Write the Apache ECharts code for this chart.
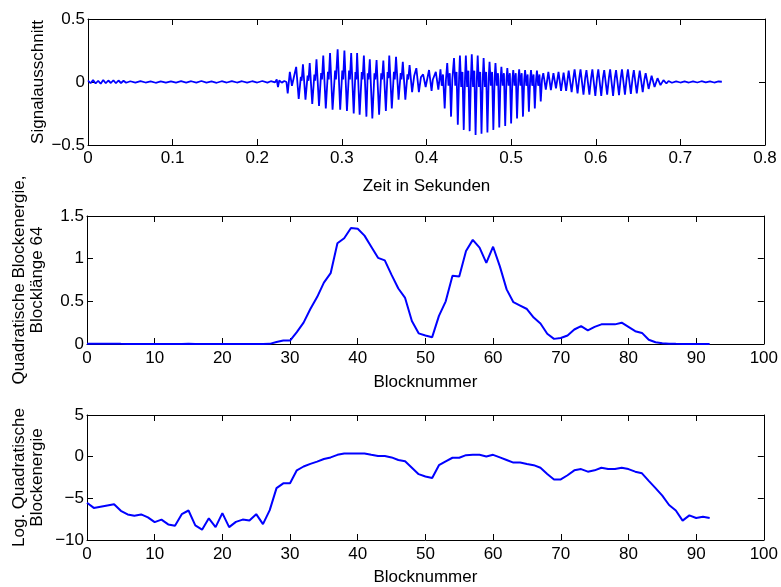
<!DOCTYPE html>
<html lang="de">
<head>
    <meta charset="UTF-8">
    <title>Blockenergie</title>
    <style>
        html, body { margin: 0; padding: 0; background: #fff; }
        #main { width: 781px; height: 587px; }
    </style>
</head>
<body>
    <div id="main"></div>
    <script src="https://cdn.jsdelivr.net/npm/echarts@6/dist/echarts.min.js"></script>
    <script>
        // Signalausschnitt: [Zeit in s, Amplitude] (Spitzen/Taeler aus dem Bild gelesen)
        var signal = [
            [0.000, 0.012], [0.003, -0.01], [0.006, 0.015], [0.009, -0.012], [0.012, 0.01], [0.015, -0.014],
            [0.018, 0.016], [0.021, -0.01], [0.024, 0.012], [0.027, -0.008], [0.030, 0.014], [0.033, -0.01],
            [0.036, 0.012], [0.039, -0.008], [0.042, 0.01], [0.045, -0.006],
            [0.050, 0.006], [0.056, -0.005], [0.062, 0.007], [0.068, -0.004], [0.074, 0.005], [0.080, -0.006],
            [0.086, 0.004], [0.092, -0.005], [0.098, 0.005], [0.104, -0.004], [0.110, 0.006], [0.116, -0.004],
            [0.122, 0.006], [0.128, -0.005], [0.134, 0.008], [0.140, -0.005], [0.146, 0.004], [0.152, -0.006],
            [0.158, 0.006], [0.164, -0.004], [0.170, 0.007], [0.176, -0.004], [0.182, 0.006], [0.188, -0.005],
            [0.194, 0.006], [0.200, -0.004], [0.206, 0.008], [0.212, -0.005], [0.216, 0.006], [0.221, -0.003],
            [0.223, 0.02], [0.2245, -0.04], [0.226, 0.012], [0.229, -0.005], [0.232, 0.008], [0.2345, 0.0],
            [0.236, -0.09], [0.2385, 0.08], [0.241, -0.03], [0.243, 0.03],
            [0.246, 0.12], [0.249, -0.135], [0.2515, 0.04], [0.2525, 0.01],
            [0.254, 0.14], [0.257, -0.14], [0.2595, 0.05], [0.2605, 0.01],
            [0.262, 0.15], [0.265, -0.175], [0.2675, 0.06], [0.2685, 0.01],
            [0.270, 0.18], [0.273, -0.19], [0.2755, 0.07], [0.2765, 0.02],
            [0.278, 0.21], [0.281, -0.21], [0.2835, 0.08], [0.2845, 0.02],
            [0.286, 0.23], [0.289, -0.22], [0.292, 0.09], [0.293, 0.02],
            [0.295, 0.26], [0.298, -0.22], [0.3005, 0.09], [0.3015, 0.02],
            [0.303, 0.25], [0.306, -0.23], [0.3085, 0.09], [0.3095, 0.02],
            [0.311, 0.23], [0.314, -0.25], [0.316, 0.08], [0.317, 0.02],
            [0.318, 0.23], [0.321, -0.26], [0.3235, 0.08], [0.3245, 0.02],
            [0.326, 0.21], [0.329, -0.275], [0.3305, 0.07], [0.3315, 0.02],
            [0.333, 0.18], [0.336, -0.29], [0.3385, 0.07], [0.3395, 0.02],
            [0.341, 0.175], [0.344, -0.26], [0.3465, 0.07], [0.3475, 0.02],
            [0.349, 0.17], [0.352, -0.23], [0.354, 0.08], [0.355, 0.03],
            [0.356, 0.21], [0.359, -0.21], [0.3615, 0.08], [0.3625, 0.02],
            [0.364, 0.20], [0.367, -0.14], [0.3695, 0.07], [0.3705, 0.02],
            [0.372, 0.16], [0.375, -0.14], [0.3775, 0.06], [0.3785, 0.02],
            [0.380, 0.135], [0.383, -0.08], [0.3855, 0.05],
            [0.388, 0.11], [0.391, -0.08], [0.3935, 0.04],
            [0.396, 0.06], [0.399, -0.04],
            [0.403, 0.095], [0.406, -0.07], [0.4075, 0.02],
            [0.411, 0.08], [0.414, -0.06], [0.4155, 0.03],
            [0.4165, 0.10], [0.418, -0.03], [0.4195, 0.06], [0.4215, -0.21], [0.423, 0.02],
            [0.4245, 0.15], [0.426, -0.03], [0.4275, 0.07], [0.429, -0.275], [0.4305, 0.02],
            [0.4325, 0.19], [0.434, -0.03], [0.4355, 0.08], [0.437, -0.34], [0.4385, 0.03],
            [0.4395, 0.21], [0.441, -0.04], [0.4425, 0.08], [0.444, -0.38], [0.4455, 0.03],
            [0.4465, 0.21], [0.448, -0.04], [0.4495, 0.09], [0.451, -0.39], [0.4525, 0.03],
            [0.4535, 0.22], [0.455, -0.04], [0.4565, 0.09], [0.458, -0.42], [0.4595, 0.03],
            [0.4605, 0.21], [0.462, -0.04], [0.4635, 0.08], [0.465, -0.41], [0.4665, 0.03],
            [0.4675, 0.19], [0.469, -0.04], [0.4705, 0.08], [0.472, -0.40], [0.4735, 0.03],
            [0.4745, 0.16], [0.476, -0.03], [0.4775, 0.08], [0.479, -0.38], [0.4805, 0.03],
            [0.4815, 0.15], [0.483, -0.03], [0.4845, 0.07], [0.486, -0.36], [0.4875, 0.02],
            [0.4885, 0.12], [0.490, -0.03], [0.4915, 0.07], [0.493, -0.35], [0.4945, 0.02],
            [0.4955, 0.11], [0.497, -0.03], [0.4985, 0.07], [0.500, -0.33], [0.5015, 0.02],
            [0.5025, 0.095], [0.504, -0.03], [0.5055, 0.07], [0.507, -0.29], [0.5085, 0.02],
            [0.5095, 0.10], [0.511, -0.03], [0.5125, 0.07], [0.514, -0.275], [0.5155, 0.02],
            [0.5165, 0.095], [0.518, -0.03], [0.5195, 0.06], [0.521, -0.235], [0.5225, 0.02],
            [0.5235, 0.095], [0.525, -0.03], [0.5265, 0.06], [0.528, -0.21], [0.5295, 0.02],
            [0.5305, 0.09], [0.532, -0.03], [0.5335, 0.06], [0.535, -0.155], [0.5365, 0.02],
            [0.538, 0.07], [0.541, -0.06], [0.544, 0.08], [0.547, -0.065], [0.550, 0.07], [0.553, -0.05],
            [0.556, 0.08], [0.559, -0.07], [0.562, 0.075], [0.565, -0.07],
            [0.568, 0.09], [0.5715, -0.08], [0.5735, 0.03],
            [0.575, 0.10], [0.5785, -0.09], [0.5805, 0.03],
            [0.582, 0.10], [0.5855, -0.10], [0.5875, 0.03],
            [0.589, 0.095], [0.5925, -0.10], [0.5945, 0.03],
            [0.596, 0.10], [0.5995, -0.11], [0.6015, 0.03],
            [0.603, 0.10], [0.6065, -0.11], [0.6085, 0.03],
            [0.610, 0.095], [0.6135, -0.10], [0.6155, 0.03],
            [0.617, 0.10], [0.6205, -0.11], [0.6225, 0.03],
            [0.624, 0.095], [0.6275, -0.105], [0.6295, 0.03],
            [0.631, 0.10], [0.6345, -0.10], [0.6365, 0.03],
            [0.638, 0.10], [0.6415, -0.095], [0.6435, 0.03],
            [0.645, 0.095], [0.6485, -0.09], [0.6505, 0.02],
            [0.652, 0.09], [0.6555, -0.08], [0.6575, 0.02],
            [0.659, 0.07], [0.6625, -0.055],
            [0.666, 0.05], [0.6695, -0.04],
            [0.673, 0.03], [0.6765, -0.025],
            [0.680, 0.015], [0.6835, -0.012],
            [0.686, 0.008], [0.690, -0.006], [0.695, 0.005], [0.700, -0.004], [0.705, 0.004], [0.710, -0.004],
            [0.715, 0.005], [0.720, -0.004], [0.725, 0.006], [0.730, -0.003], [0.735, 0.005], [0.740, -0.004],
            [0.745, 0.004], [0.749, 0.002]
        ];

        // Quadratische Blockenergie, Block 0 .. 92
        var energy = [
            0.004, 0.002, 0.0025, 0.003, 0.0033, 0.0015, 0.001, 0.0008, 0.001, 0.0007,
            0.0004, 0.0005, 0.0003, 0.0002, 0.001, 0.0016, 0.0003, 0.0002, 0.0006, 0.0002,
            0.0012, 0.0002, 0.0004, 0.0005, 0.0005, 0.001, 0.0003, 0.0016, 0.023, 0.04,
            0.04, 0.14, 0.25, 0.41, 0.55, 0.72, 0.83, 1.18, 1.24, 1.36,
            1.35, 1.27, 1.14, 1.01, 0.98, 0.81, 0.65, 0.54, 0.27, 0.125,
            0.10, 0.08, 0.33, 0.50, 0.80, 0.79, 1.09, 1.22, 1.13, 0.95,
            1.14, 0.91, 0.64, 0.49, 0.45, 0.41, 0.31, 0.24, 0.12, 0.06,
            0.07, 0.10, 0.17, 0.21, 0.16, 0.20, 0.23, 0.23, 0.23, 0.25,
            0.20, 0.15, 0.13, 0.05, 0.02, 0.009, 0.003, 0.0016, 0.0005, 0.0009,
            0.0006, 0.0007, 0.0006
        ];

        // Log. quadratische Blockenergie, Block 0 .. 92
        var logEnergy = [
            -5.53, -6.15, -6.0, -5.85, -5.7, -6.5, -6.93, -7.08, -6.93, -7.28,
            -7.86, -7.55, -8.13, -8.3, -6.9, -6.46, -8.25, -8.76, -7.4, -8.45,
            -6.77, -8.45, -7.83, -7.55, -7.67, -6.9, -8.1, -6.42, -3.78, -3.2,
            -3.2, -1.64, -1.18, -0.87, -0.6, -0.28, -0.09, 0.22, 0.38, 0.38,
            0.38, 0.38, 0.22, 0.07, 0.07, -0.09, -0.4, -0.56, -1.33, -2.1,
            -2.38, -2.57, -1.02, -0.56, -0.13, -0.13, 0.18, 0.22, 0.22, 0.03,
            0.22, -0.09, -0.4, -0.71, -0.71, -0.87, -1.02, -1.33, -2.07, -2.73,
            -2.73, -2.23, -1.64, -1.49, -1.8, -1.64, -1.33, -1.49, -1.49, -1.33,
            -1.49, -1.8, -2.0, -2.9, -3.78, -4.68, -5.8, -6.46, -7.67, -7.05,
            -7.36, -7.2, -7.36
        ];

        var font = "'Liberation Sans', Arial, Helvetica, sans-serif";
        var fontSize = 17;
        var blue = '#0000ff';

        function minus(v) {
            return String(v).replace('-', '\u2212');
        }

        function xMain(grid, min, max, interval, name, margin, gap) {
            return {
                type: 'value', gridIndex: grid, position: 'bottom',
                min: min, max: max, interval: interval,
                name: name, nameLocation: 'middle', nameGap: gap, nameMoveOverlap: false,
                nameTextStyle: { color: '#000', fontFamily: font, fontSize: fontSize },
                axisLine: { show: true, onZero: false, lineStyle: { color: '#000', width: 1 } },
                axisTick: { show: true, inside: true, length: 6, lineStyle: { color: '#000' } },
                axisLabel: { color: '#000', fontFamily: font, fontSize: fontSize, margin: margin, formatter: minus },
                splitLine: { show: false }
            };
        }

        function xTop(grid, min, max, interval) {
            return {
                type: 'value', gridIndex: grid, position: 'top',
                min: min, max: max, interval: interval,
                axisLine: { show: true, onZero: false, lineStyle: { color: '#000', width: 1 } },
                axisTick: { show: true, inside: true, length: 6, lineStyle: { color: '#000' } },
                axisLabel: { show: false },
                splitLine: { show: false }
            };
        }

        function yMain(grid, min, max, interval, name, gap) {
            return {
                type: 'value', gridIndex: grid, position: 'left',
                min: min, max: max, interval: interval,
                name: name, nameLocation: 'middle', nameGap: gap, nameRotate: 90, nameMoveOverlap: false,
                nameTextStyle: { color: '#000', fontFamily: font, fontSize: fontSize, lineHeight: 18 },
                axisLine: { show: true, onZero: false, lineStyle: { color: '#000', width: 1 } },
                axisTick: { show: true, inside: true, length: 6, lineStyle: { color: '#000' } },
                axisLabel: { color: '#000', fontFamily: font, fontSize: fontSize, margin: 3, formatter: minus },
                splitLine: { show: false }
            };
        }

        function yRight(grid, min, max, interval) {
            return {
                type: 'value', gridIndex: grid, position: 'right',
                min: min, max: max, interval: interval,
                axisLine: { show: true, onZero: false, lineStyle: { color: '#000', width: 1 } },
                axisTick: { show: true, inside: true, length: 6, lineStyle: { color: '#000' } },
                axisLabel: { show: false },
                splitLine: { show: false }
            };
        }

        function lineSeries(xi, yi, data, width) {
            return {
                type: 'line', xAxisIndex: xi, yAxisIndex: yi,
                data: data, showSymbol: false, symbol: 'none',
                lineStyle: { color: blue, width: width },
                silent: true
            };
        }

        var energyData = energy.map(function (v, i) { return [i, v]; });
        var logData = logEnergy.map(function (v, i) { return [i, v]; });

        var option = {
            backgroundColor: '#fff',
            animation: false,
            grid: [
                { left: 88, right: 16, top: 19, height: 126 },
                { left: 87, right: 16, top: 216, height: 128 },
                { left: 87, right: 16, top: 415, height: 128 }
            ],
            xAxis: [
                xMain(0, 0, 0.8, 0.1, 'Zeit in Sekunden', 5, 33),
                xTop(0, 0, 0.8, 0.1),
                xMain(1, 0, 100, 10, 'Blocknummer', 6, 30),
                xTop(1, 0, 100, 10),
                xMain(2, 0, 100, 10, 'Blocknummer', 6, 29),
                xTop(2, 0, 100, 10)
            ],
            yAxis: [
                yMain(0, -0.5, 0.5, 0.5, 'Signalausschnitt', 41),
                yRight(0, -0.5, 0.5, 0.5),
                yMain(1, 0, 1.5, 0.5, 'Quadratische Blockenergie,\nBlocklänge 64', 41),
                yRight(1, 0, 1.5, 0.5),
                yMain(2, -10, 5, 5, 'Log. Quadratische\nBlockenergie', 41),
                yRight(2, -10, 5, 5)
            ],
            series: [
                lineSeries(0, 0, signal, 1.8),
                lineSeries(2, 2, energyData, 2),
                lineSeries(4, 4, logData, 2)
            ]
        };

        var myChart = echarts.init(document.getElementById('main'), null, { renderer: 'canvas' });
        myChart.setOption(option);
    </script>
</body>
</html>
